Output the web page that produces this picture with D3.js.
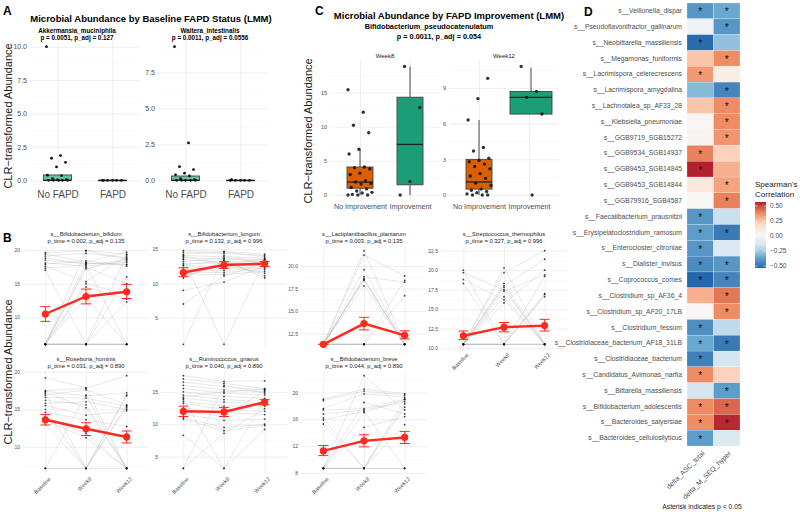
<!DOCTYPE html>
<html>
<head>
<meta charset="utf-8">
<script src="https://cdn.jsdelivr.net/npm/d3@7"></script>
<style>
  body { margin: 0; background: #fff; }
  svg { font-family: "Liberation Sans", Arial, sans-serif; }
</style>
</head>
<body>
<svg id="fig" width="800" height="512"></svg>
<script>
// ---------------- panel A data
var aTaxa = ["Akkermansia_muciniphila", "Waltera_intestinalis"];
var aStats = ["p = 0.0051, p_adj = 0.127", "p = 0.0011, p_adj = 0.0556"];
var aGroups = ["No FAPD", "FAPD"];
var aTicks = [[0, 2.5, 5, 7.5, 10], [0, 2.5, 5, 7.5]];
var akkNoFapd = [10.0, 1.85, 1.65, 1.35, 1.0, 0.38, 0.35, 0.12, 0.05, 0.03, 0, 0, 0, 0, 0];
var akkFapd = [0, 0, 0, 0, 0, 0];
var walNoFapd = [9.3, 2.6, 0.95, 0.75, 0.5, 0.38, 0.3, 0.12, 0.05, 0, 0, 0, 0, 0];
var walFapd = [0, 0, 0, 0, 0, 0.05];
// box stats: [lower whisker, q1, median, q3, upper whisker]
var akkBox = [[0, 0, 0, 0.4, 0.4], [0, 0, 0, 0, 0]];
var walBox = [[0, 0, 0, 0.3, 0.3], [0, 0, 0, 0, 0]];

// ---------------- panel C data
var cWeeks = ["Week8", "Week12"];
var cGroups = ["No Improvement", "Improvement"];
var cTicks = [[0, 5, 10, 15], [0, 3, 6, 9]];
var w8NoImp = [15.4, 12.1, 10.2, 9.1, 6.7, 6.0, 4.1, 4.0, 3.8, 3.2, 3.0, 2.1, 1.9, 1.7, 1.6, 1.1, 0.9, 0.6, 0.4, 0.3, 0.1, 0, 0, 0];
var w8Imp = [18.8, 12.8, 2.0, 0];
var w12NoImp = [9.8, 8.1, 6.3, 4.0, 3.7, 3.1, 2.9, 2.8, 2.6, 2.4, 2.2, 1.8, 1.6, 1.4, 1.0, 0.8, 0.5, 0.4, 0.3, 0.2, 0.1, 0, 0, 0];
var w12Imp = [10.8, 8.7, 8.2, 6.8, 0];
var w8Box = [[0, 1.0, 1.9, 4.1, 6.7], [0, 1.5, 7.4, 14.3, 18.8]];
var w12Box = [[0, 0.5, 1.1, 3.0, 6.3], [6.8, 6.8, 8.2, 8.7, 10.7]];

// ---------------- panel B data
var bTimes = ["Baseline", "Week8", "Week12"];
var bTaxa = ["s__Bifidobacterium_bifidum", "s__Bifidobacterium_longum", "s__Lactiplantibacillus_plantarum",
  "s__Streptococcus_thermophilus", "s__Roseburia_hominis", "s__Ruminococcus_gnavus", "s__Bifidobacterium_breve"];
var bPtime = ["0.002", "0.132", "0.003", "0.327", "0.031", "0.040", "0.044"];
var bPadj = ["0.135", "0.996", "0.135", "0.996", "0.890", "0.890", "0.890"];
var bTicks = [[10, 15, 20], [5, 10, 15], [12.5, 15, 17.5, 20], [10, 12.5, 15, 17.5, 20, 22.5],
  [10, 15, 20], [5, 10, 15], [8, 12, 16, 20]];
var bMean = [[10.5, 13.1, 13.8], [11.6, 12.7, 12.9], [11.3, 13.6, 12.3], [11.6, 12.7, 12.9],
  [13.6, 12.4, 11.3], [12.0, 11.9, 13.4], [11.3, 12.8, 13.3]];
var bLo = [[9.4, 12.0, 12.8], [11.0, 12.2, 12.5], [11.3, 12.9, 11.9], [11.1, 12.1, 12.2],
  [12.9, 11.5, 10.5], [11.2, 11.2, 13.0], [10.6, 11.9, 12.4]];
var bHi = [[11.6, 14.2, 14.9], [12.3, 13.2, 13.2], [11.3, 14.3, 12.8], [12.2, 13.3, 13.7],
  [14.3, 13.2, 12.1], [12.8, 12.6, 13.8], [12.1, 13.7, 14.2]];

// one row per subject: [Baseline, Week8, Week12]
var subjBifidum = [[19.6, 19.9, 19.4], [19.4, 18.2, 19.7], [19.1, 19.5, 18.9], [18.8, 17.9, 18.4], [18.5, 18.0, 17.9],
  [18.1, 17.6, 18.2], [17.9, 18.4, 17.6], [17.6, 15.3, 19.1], [17.3, 17.8, 6.0], [17.0, 6.0, 16.0],
  [6.0, 19.9, 18.6], [6.0, 18.1, 17.8], [6.0, 17.4, 15.0], [6.0, 15.0, 13.4], [6.0, 14.5, 12.7],
  [6.0, 13.0, 6.0], [6.0, 6.0, 12.3], [6.0, 6.0, 19.3], [6.0, 17.2, 18.7], [6.0, 6.0, 6.0],
  [6.0, 6.0, 6.0], [6.0, 6.0, 6.0], [6.0, 6.0, 6.0], [6.0, 6.0, 6.0]];
var subjLongum = [[14.8, 14.7, 14.3], [14.6, 14.4, 14.1], [14.3, 14.6, 13.9], [14.1, 13.9, 13.7], [13.8, 13.6, 13.5],
  [13.5, 13.1, 13.3], [13.2, 13.7, 13.1], [12.9, 13.0, 12.9], [12.6, 12.5, 12.7], [12.3, 12.2, 12.5],
  [12.0, 11.9, 12.3], [11.7, 11.6, 12.1], [11.4, 11.3, 11.8], [11.1, 12.7, 11.5], [10.8, 13.3, 11.1],
  [9.0, 10.2, 12.6], [7.0, 11.1, 13.0], [1.1, 14.1, 12.8], [13.6, 1.1, 13.4], [12.7, 13.4, 10.8], [14.0, 12.8, 13.6]];
var subjPlantarum = [[11.3, 21.7, 11.3], [11.3, 21.2, 18.9], [11.3, 19.6, 11.3], [11.3, 18.8, 18.2], [11.3, 18.6, 11.3],
  [11.3, 18.5, 11.3], [11.3, 18.4, 11.3], [11.3, 17.8, 11.3], [11.3, 11.3, 18.4], [11.3, 11.3, 16.7],
  [11.3, 11.3, 11.3], [11.3, 11.3, 11.3], [11.3, 11.3, 11.3], [11.3, 11.3, 11.3]];
var subjThermophilus = [[20.0, 10.5, 10.5], [19.7, 17.5, 10.5], [18.8, 16.2, 10.5], [18.3, 10.5, 19.2], [10.5, 20.3, 10.5],
  [10.5, 19.7, 22.5], [10.5, 18.3, 10.5], [10.5, 18.0, 21.4], [10.5, 17.8, 10.5], [10.5, 17.3, 19.4],
  [10.5, 16.6, 10.5], [10.5, 15.8, 20.0], [10.5, 10.5, 17.0], [10.5, 10.5, 16.9], [10.5, 10.5, 16.6],
  [10.5, 10.5, 10.5], [10.5, 10.5, 10.5], [10.5, 10.5, 10.5]];
var subjRoseburia = [[19.2, 17.9, 7.1], [17.5, 17.8, 19.5], [17.4, 16.8, 17.2], [17.1, 7.1, 16.8], [16.9, 17.6, 15.6],
  [16.6, 16.5, 15.4], [16.2, 15.6, 7.1], [15.8, 16.0, 15.0], [15.5, 14.2, 14.8], [15.0, 7.1, 15.5],
  [14.6, 13.6, 12.7], [14.0, 11.8, 7.1], [13.5, 11.2, 7.1], [13.0, 7.1, 15.2], [7.1, 16.9, 7.1],
  [7.1, 7.1, 16.9], [7.1, 7.1, 7.1], [17.3, 15.2, 7.1]];
var subjGnavus = [[17.5, 16.6, 16.7], [17.0, 16.3, 15.5], [16.5, 15.8, 15.3], [16.0, 15.3, 15.0], [15.5, 14.8, 14.5],
  [15.0, 14.3, 14.0], [14.5, 13.8, 13.5], [14.0, 13.4, 13.2], [13.5, 12.8, 12.8], [13.2, 12.3, 12.0],
  [12.5, 11.8, 11.5], [12.0, 11.2, 15.2], [11.5, 10.6, 10.8], [11.0, 9.5, 10.0], [10.8, 9.0, 9.8],
  [8.3, 3.2, 9.2], [3.2, 8.6, 12.4], [3.2, 16.0, 14.8], [13.8, 3.2, 13.8], [14.2, 15.0, 15.4]];
var subjBreve = [[19.0, 20.5, 19.8], [18.8, 20.2, 19.6], [17.6, 19.8, 19.3], [17.4, 17.6, 19.0], [16.8, 17.4, 18.6],
  [16.2, 8.7, 18.3], [15.9, 17.2, 8.7], [15.3, 8.7, 17.8], [8.7, 22.5, 17.4], [8.7, 18.5, 16.8],
  [8.7, 14.8, 16.4], [8.7, 8.7, 15.2], [8.7, 8.7, 19.0], [8.7, 8.7, 8.7], [8.7, 17.0, 18.9], [8.7, 8.7, 8.7]];
var bSubjects = [subjBifidum, subjLongum, subjPlantarum, subjThermophilus, subjRoseburia, subjGnavus, subjBreve];

// ---------------- panel D data
var dTaxa = ["s__Veillonella_dispar", "s__Pseudoflavonifractor_gallinarum", "s__Neobittarella_massiliensis",
  "s__Megamonas_funiformis", "s__Lacrimispora_celerecrescens", "s__Lacrimispora_amygdalina",
  "s__Lachnotalea_sp_AF33_28", "s__Klebsiella_pneumoniae", "s__GGB9719_SGB15272", "s__GGB9534_SGB14937",
  "s__GGB9453_SGB14845", "s__GGB9453_SGB14844", "s__GGB79916_SGB4587", "s__Faecalibacterium_prausnitzii",
  "s__Erysipelatoclostridium_ramosum", "s__Enterocloster_citroniae", "s__Dialister_invisus",
  "s__Coprococcus_comes", "s__Clostridium_sp_AF36_4", "s__Clostridium_sp_AF20_17LB", "s__Clostridium_fessum",
  "s__Clostridiaceae_bacterium_AF18_31LB", "s__Clostridiaceae_bacterium", "s__Candidatus_Avimonas_narfia",
  "s__Bittarella_massiliensis", "s__Bifidobacterium_adolescentis", "s__Bacteroides_salyersiae",
  "s__Bacteroides_cellulosilyticus"];
var dVars = ["delta_ASC_total", "delta_M_SEQ_hyper"];
var rhoASC = [-0.40, -0.03, -0.52, 0.25, 0.35, -0.30, 0.25, 0.03, 0.04, 0.40, 0.56, 0.12, 0.03, -0.40,
  -0.38, -0.40, -0.43, -0.53, 0.30, 0.03, -0.42, -0.35, -0.46, 0.38, -0.15, 0.38, 0.38, -0.38];
var rhoMSEQ = [-0.35, -0.40, -0.28, 0.38, 0.08, -0.45, 0.38, 0.38, 0.36, 0.22, 0.30, 0.33, 0.40, -0.18,
  -0.48, -0.12, -0.40, -0.45, 0.42, 0.38, -0.20, -0.48, -0.15, 0.22, -0.38, 0.45, 0.55, -0.12];
var sigASC = [1, 0, 1, 0, 1, 0, 0, 0, 0, 1, 1, 0, 0, 1, 1, 1, 1, 1, 0, 0, 1, 1, 1, 1, 0, 1, 1, 1];
var sigMSEQ = [1, 1, 0, 1, 0, 1, 1, 1, 1, 0, 0, 1, 1, 0, 1, 0, 1, 1, 1, 1, 0, 1, 0, 0, 1, 1, 1, 0];
var legendTicks = [-0.5, -0.25, 0, 0.25, 0.5];
var rdbu = ["#2166AC", "#67A9CF", "#D1E5F0", "#F7F7F7", "#FDDBC7", "#EF8A62", "#B2182B"];

// ---------------- helpers
var svg = d3.select("#fig");
var GRID = "#EBEBEB", MINOR = "#F4F4F4", TXT = "#4D4D4D";

function fmtFor(ticks) {
  var dec = ticks.some(function(t) { return t % 1 !== 0; });
  return dec ? d3.format(".1f") : d3.format("d");
}

function minorsOf(ticks, dom) {
  var step = ticks[1] - ticks[0], out = [];
  for (var t = ticks[0] - step / 2; t <= dom[1]; t += step) {
    if (t >= dom[0]) out.push(t);
  }
  return out;
}

function expandDomain(lo, hi) {
  var pad = (hi - lo) * 0.05;
  return [lo - pad, hi + pad];
}

function grid(g, x, y, ticks, box) {
  var w = box.right - box.left;
  g.append("g")
    .attr("transform", "translate(" + box.left + ",0)")
    .call(d3.axisLeft(y).tickValues(minorsOf(ticks, y.domain())).tickSize(-w).tickFormat(""))
    .call(function(s) { s.select(".domain").remove(); })
    .selectAll("line").attr("stroke", MINOR).attr("stroke-width", 0.5);
  g.append("g")
    .attr("transform", "translate(" + box.left + ",0)")
    .call(d3.axisLeft(y).tickValues(ticks).tickSize(-w).tickFormat(""))
    .call(function(s) { s.select(".domain").remove(); })
    .selectAll("line").attr("stroke", GRID).attr("stroke-width", 0.8);
  g.append("g")
    .attr("transform", "translate(0," + box.bottom + ")")
    .call(d3.axisBottom(x).tickSize(-(box.bottom - box.top)).tickFormat(""))
    .call(function(s) { s.select(".domain").remove(); })
    .selectAll("line").attr("stroke", GRID).attr("stroke-width", 0.8);
}

function yLabels(g, y, ticks, box, size) {
  g.append("g")
    .attr("transform", "translate(" + box.left + ",0)")
    .attr("font-family", null).attr("font-size", null)
    .call(d3.axisLeft(y).tickValues(ticks).tickSize(0).tickPadding(3).tickFormat(fmtFor(ticks)))
    .call(function(s) { s.select(".domain").remove(); })
    .selectAll("text").attr("fill", TXT).style("font-size", size + "px");
}

function jit(i, w) {
  return (((i * 37) % 23) / 22 - 0.5) * w;
}

function boxplot(g, cx, w, b, y, fill) {
  g.append("line").attr("x1", cx).attr("x2", cx).attr("y1", y(b[0])).attr("y2", y(b[1]))
    .attr("stroke", "#333").attr("stroke-width", 0.9);
  g.append("line").attr("x1", cx).attr("x2", cx).attr("y1", y(b[3])).attr("y2", y(b[4]))
    .attr("stroke", "#333").attr("stroke-width", 0.9);
  g.append("rect")
    .attr("x", cx - w / 2).attr("width", w)
    .attr("y", y(b[3])).attr("height", Math.max(y(b[1]) - y(b[3]), 0.5))
    .attr("fill", fill).attr("stroke", "#444").attr("stroke-width", 0.9);
  g.append("line").attr("x1", cx - w / 2).attr("x2", cx + w / 2).attr("y1", y(b[2])).attr("y2", y(b[2]))
    .attr("stroke", "#222").attr("stroke-width", 1.3);
}

function yTitle(x, y, text) {
  svg.append("text")
    .attr("transform", "translate(" + x + "," + y + ") rotate(-90)")
    .attr("text-anchor", "middle")
    .style("font-size", "11px")
    .attr("fill", "#1a1a1a")
    .text(text);
}

function letter(x, y, t) {
  svg.append("text").attr("x", x).attr("y", y).style("font-size", "12px")
    .style("font-weight", "bold").text(t);
}

// ---------------- panel A
letter(3, 15, "A");
svg.append("text").attr("x", 151).attr("y", 22).attr("text-anchor", "middle")
  .style("font-size", "9.5px").style("font-weight", "bold")
  .text("Microbial Abundance by Baseline FAPD Status (LMM)");
yTitle(12, 116, "CLR\u2212transformed Abundance");

var aSeries = [[akkNoFapd, akkFapd], [walNoFapd, walFapd]];
var aBoxes = [akkBox, walBox];
var aLefts = [30, 158];
var aStripX = [77, 210];

aTaxa.forEach(function(taxon, k) {
  var box = { left: aLefts[k], right: aLefts[k] + 110, top: 40, bottom: 187 };
  var g = svg.append("g");
  var x = d3.scalePoint().domain(aGroups).range([box.left, box.right]).padding(0.5);
  var hi = d3.max(aSeries[k], function(s) { return d3.max(s); });
  var y = d3.scaleLinear().domain(expandDomain(0, hi)).range([box.bottom, box.top]);
  grid(g, x, y, aTicks[k], box);
  yLabels(g, y, aTicks[k], box, 7);

  aGroups.forEach(function(grp, j) {
    boxplot(g, x(grp), 28, aBoxes[k][j], y, "#66C2A5");
    g.selectAll(null).data(aSeries[k][j]).enter().append("circle")
      .attr("cx", function(d, i) { return x(grp) + jit(i + j * 5, 22); })
      .attr("cy", function(d) { return y(d); })
      .attr("r", 1.4).attr("fill", "#111");
  });

  g.append("g")
    .attr("transform", "translate(0," + box.bottom + ")")
    .attr("font-family", null).attr("font-size", null)
    .call(d3.axisBottom(x).tickSize(0).tickPadding(4))
    .call(function(s) { s.select(".domain").remove(); })
    .selectAll("text").attr("fill", TXT).style("font-size", "10px");

  g.append("text").attr("x", aStripX[k]).attr("y", 33).attr("text-anchor", "middle")
    .style("font-size", "6.3px").style("font-weight", "bold").text(taxon);
  g.append("text").attr("x", aStripX[k]).attr("y", 39.5).attr("text-anchor", "middle")
    .style("font-size", "6.3px").style("font-weight", "bold").text(aStats[k]);
});

// ---------------- panel C
letter(315, 15, "C");
svg.append("text").attr("x", 449).attr("y", 19).attr("text-anchor", "middle")
  .style("font-size", "9.5px").style("font-weight", "bold")
  .text("Microbial Abundance by FAPD Improvement (LMM)");
svg.append("text").attr("x", 429).attr("y", 29).attr("text-anchor", "middle")
  .style("font-size", "7.3px").style("font-weight", "bold")
  .text("Bifidobacterium_pseudocatenulatum");
svg.append("text").attr("x", 439).attr("y", 38.5).attr("text-anchor", "middle")
  .style("font-size", "7.3px").style("font-weight", "bold")
  .text("p = 0.0011, p_adj = 0.054");
yTitle(312, 131, "CLR\u2212transformed Abundance");

var cSeries = [[w8NoImp, w8Imp], [w12NoImp, w12Imp]];
var cBoxes = [w8Box, w12Box];
var cLefts = [330, 449];
var cFill = ["#D95F02", "#1B9E77"];
var cBoxW = [[26, 26], [26, 42]];

cWeeks.forEach(function(week, k) {
  var box = { left: cLefts[k], right: cLefts[k] + 110, top: 60, bottom: 201.5 };
  var g = svg.append("g");
  var x = d3.scalePoint().domain(cGroups).range([box.left, box.right]).padding(0.6);
  var hi = d3.max(cSeries[k], function(s) { return d3.max(s); });
  var y = d3.scaleLinear().domain(expandDomain(0, hi)).range([box.bottom, box.top]);
  grid(g, x, y, cTicks[k], box);
  yLabels(g, y, cTicks[k], box, 5.5);

  cGroups.forEach(function(grp, j) {
    var cxg = x(grp) + (k === 1 && j === 1 ? 2 : 0);
    boxplot(g, cxg, cBoxW[k][j], cBoxes[k][j], y, cFill[j]);
    g.selectAll(null).data(cSeries[k][j]).enter().append("circle")
      .attr("cx", function(d, i) { return cxg + jit(i + k * 3 + j * 7, 24); })
      .attr("cy", function(d) { return y(d); })
      .attr("r", 1.7).attr("fill", "#111").attr("opacity", 0.85);
  });

  g.append("g")
    .attr("transform", "translate(0," + box.bottom + ")")
    .attr("font-family", null).attr("font-size", null)
    .call(d3.axisBottom(x).tickSize(0).tickPadding(2))
    .call(function(s) { s.select(".domain").remove(); })
    .selectAll("text").attr("fill", TXT).style("font-size", "7.2px");

  g.append("text").attr("x", (box.left + box.right) / 2).attr("y", 57.5).attr("text-anchor", "middle")
    .style("font-size", "6px").attr("fill", "#1a1a1a").text(week);
});

// ---------------- panel B
letter(3, 242, "B");
yTitle(12, 372, "CLR\u2212transformed Abundance");

var bLefts = [23, 161, 301, 441];
var bRows = [{ top: 246, bottom: 349, s1: 236, s2: 242.5 }, { top: 371, bottom: 473, s1: 361, s2: 367.5 }];

bTaxa.forEach(function(taxon, k) {
  var col = k % 4, row = Math.floor(k / 4);
  var r = bRows[row];
  var box = { left: bLefts[col], right: bLefts[col] + 126, top: r.top, bottom: r.bottom };
  var g = svg.append("g");
  var subj = bSubjects[k];
  var x = d3.scalePoint().domain(bTimes).range([box.left, box.right]).padding(0.55);
  var lo = d3.min(subj, function(s) { return d3.min(s); });
  var hi = d3.max(subj, function(s) { return d3.max(s); });
  var y = d3.scaleLinear().domain(expandDomain(lo, hi)).range([box.bottom, box.top]);
  grid(g, x, y, bTicks[k], box);
  yLabels(g, y, bTicks[k], box, 5);

  var line = d3.line()
    .x(function(d, i) { return x(bTimes[i]); })
    .y(function(d) { return y(d); });

  g.selectAll(".subj").data(subj).enter().append("path")
    .attr("class", "subj")
    .attr("d", line)
    .attr("fill", "none").attr("stroke", "#B8B8B8").attr("stroke-opacity", 0.55).attr("stroke-width", 0.6);

  subj.forEach(function(s) {
    g.selectAll(null).data(s).enter().append("circle")
      .attr("cx", function(d, i) { return x(bTimes[i]); })
      .attr("cy", function(d) { return y(d); })
      .attr("r", 0.9).attr("fill", "#111").attr("opacity", 0.8);
  });

  // mean +/- se
  bTimes.forEach(function(t, i) {
    var cx = x(t);
    g.append("line").attr("x1", cx).attr("x2", cx).attr("y1", y(bLo[k][i])).attr("y2", y(bHi[k][i]))
      .attr("stroke", "#FF2A1F").attr("stroke-width", 1);
    [bLo[k][i], bHi[k][i]].forEach(function(v) {
      g.append("line").attr("x1", cx - 5).attr("x2", cx + 5).attr("y1", y(v)).attr("y2", y(v))
        .attr("stroke", "#FF2A1F").attr("stroke-width", 1);
    });
  });
  g.append("path").datum(bMean[k]).attr("d", line)
    .attr("fill", "none").attr("stroke", "#FF2A1F").attr("stroke-width", 2.4);
  g.selectAll(".mean").data(bMean[k]).enter().append("circle")
    .attr("class", "mean")
    .attr("cx", function(d, i) { return x(bTimes[i]); })
    .attr("cy", function(d) { return y(d); })
    .attr("r", 3.6).attr("fill", "#FF2A1F");

  var cx = (box.left + box.right) / 2;
  g.append("text").attr("x", cx).attr("y", r.s1).attr("text-anchor", "middle")
    .style("font-size", "5.8px").attr("fill", "#1a1a1a").text(taxon);
  g.append("text").attr("x", cx).attr("y", r.s2).attr("text-anchor", "middle")
    .style("font-size", "5.8px").attr("fill", "#1a1a1a")
    .text("p_time = " + bPtime[k] + ", p_adj = " + bPadj[k]);

  if (row === 1 || col === 3) {
    g.append("g")
      .attr("transform", "translate(0," + box.bottom + ")")
      .attr("font-family", null).attr("font-size", null)
      .call(d3.axisBottom(x).tickSize(0))
      .call(function(s) { s.select(".domain").remove(); })
      .selectAll("text")
      .attr("y", 0).attr("dy", "0.35em")
      .attr("transform", "translate(4,5) rotate(-45)")
      .style("text-anchor", "end")
      .attr("fill", TXT).style("font-size", "5.5px");
  }
});

// ---------------- panel D
letter(584, 16, "D");
var hx = d3.scaleBand().domain(dVars).range([687, 740]);
var hy = d3.scaleBand().domain(dTaxa).range([3, 446]);
var rhoLo = -0.533, rhoHi = 0.567;
var colour = d3.scaleLinear()
  .domain(rdbu.map(function(c, i) { return rhoLo + i * (rhoHi - rhoLo) / (rdbu.length - 1); }))
  .range(rdbu).interpolate(d3.interpolateLab).clamp(true);

var cells = [];
dTaxa.forEach(function(t, i) {
  cells.push({ taxon: t, v: dVars[0], rho: rhoASC[i], sig: sigASC[i] });
  cells.push({ taxon: t, v: dVars[1], rho: rhoMSEQ[i], sig: sigMSEQ[i] });
});

var heat = svg.append("g");
heat.selectAll(".cell").data(cells).enter().append("rect")
  .attr("class", "cell")
  .attr("x", function(d) { return hx(d.v); })
  .attr("y", function(d) { return hy(d.taxon); })
  .attr("width", hx.bandwidth())
  .attr("height", hy.bandwidth())
  .attr("fill", function(d) { return colour(d.rho); })
  .attr("stroke", "#fff").attr("stroke-width", 0.2);

heat.selectAll(".star").data(cells.filter(function(d) { return d.sig; })).enter().append("text")
  .attr("class", "star")
  .attr("x", function(d) { return hx(d.v) + hx.bandwidth() / 2; })
  .attr("y", function(d) { return hy(d.taxon) + hy.bandwidth() / 2 + 4.5; })
  .attr("text-anchor", "middle")
  .style("font-size", "10px").attr("fill", "#111")
  .text("*");

heat.append("g")
  .attr("transform", "translate(687,0)")
  .attr("font-family", null).attr("font-size", null)
  .call(d3.axisLeft(hy).tickSize(0).tickPadding(5))
  .call(function(s) { s.select(".domain").remove(); })
  .selectAll("text").attr("fill", TXT).style("font-size", "6.8px");

heat.append("g")
  .attr("transform", "translate(0,446)")
  .attr("font-family", null).attr("font-size", null)
  .call(d3.axisBottom(hx).tickSize(0))
  .call(function(s) { s.select(".domain").remove(); })
  .selectAll("text")
  .attr("y", 0).attr("dy", "0.35em")
  .attr("transform", "translate(3,6) rotate(-45)")
  .style("text-anchor", "end")
  .attr("fill", TXT).style("font-size", "7px");

svg.append("text").attr("x", 702).attr("y", 508.5).attr("text-anchor", "middle")
  .style("font-size", "6.8px").attr("fill", "#1a1a1a").text("Asterisk indicates p < 0.05");

// legend
var lg = svg.append("g");
var legY = d3.scaleLinear().domain([rhoLo, rhoHi]).range([268, 202]);
var grad = svg.append("defs").append("linearGradient")
  .attr("id", "rhoGrad").attr("x1", 0).attr("y1", 1).attr("x2", 0).attr("y2", 0);
d3.range(0, 1.0001, 0.05).forEach(function(f) {
  var v = rhoLo + f * (rhoHi - rhoLo);
  grad.append("stop").attr("offset", f).attr("stop-color", colour(v));
});
lg.append("text").attr("x", 755).attr("y", 187).style("font-size", "8px").attr("fill", "#1a1a1a").text("Spearman's");
lg.append("text").attr("x", 755).attr("y", 197).style("font-size", "8px").attr("fill", "#1a1a1a").text("Correlation");
lg.append("rect").attr("x", 755).attr("y", 202).attr("width", 11).attr("height", 66).attr("fill", "url(#rhoGrad)");
lg.selectAll(".lt").data(legendTicks).enter().append("line")
  .attr("x1", 755).attr("x2", 757.5)
  .attr("y1", function(d) { return legY(d); }).attr("y2", function(d) { return legY(d); })
  .attr("stroke", "#fff").attr("stroke-width", 0.6);
lg.selectAll(".rt").data(legendTicks).enter().append("line")
  .attr("x1", 763.5).attr("x2", 766)
  .attr("y1", function(d) { return legY(d); }).attr("y2", function(d) { return legY(d); })
  .attr("stroke", "#fff").attr("stroke-width", 0.6);
lg.selectAll(".tl").data(legendTicks).enter().append("text")
  .attr("x", 770)
  .attr("y", function(d) { return legY(d); })
  .attr("dy", "0.35em")
  .style("font-size", "6.5px").attr("fill", TXT)
  .text(d3.format(".2f"));
</script>
</body>
</html>
